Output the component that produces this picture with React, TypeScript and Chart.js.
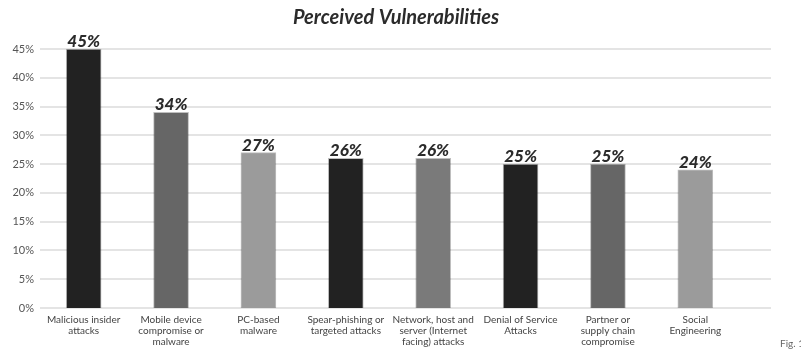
import React, { useEffect, useRef } from "react";
import { Chart, registerables } from "chart.js";

Chart.register(...registerables);

const categories: string[][] = [
  ["Malicious insider", "attacks"],
  ["Mobile device", "compromise or", "malware"],
  ["PC-based", "malware"],
  ["Spear-phishing or", "targeted attacks"],
  ["Network, host and", "server (Internet", "facing) attacks"],
  ["Denial of Service", "Attacks"],
  ["Partner or", "supply chain", "compromise"],
  ["Social", "Engineering"],
];
const values = [45, 34, 27, 26, 26, 25, 25, 24];
const barColors = ["#222222", "#666666", "#9b9b9b", "#222222", "#7a7a7a", "#222222", "#666666", "#9b9b9b"];
const yTicks = [0, 5, 10, 15, 20, 25, 30, 35, 40, 45];
const title = "Perceived Vulnerabilities";
const footnote = "Fig. 1";

const FONT = "Lato, 'Open Sans', sans-serif";

// Horizontal grid lines run a little past the last category, as in the printed figure.
const gridPlugin = {
  id: "extendedGrid",
  beforeDatasetsDraw(chart: any) {
    const { ctx, chartArea, scales } = chart;
    ctx.save();
    ctx.strokeStyle = "#e4e4e4";
    ctx.lineWidth = 2;
    for (const t of yTicks) {
      const y = Math.round(scales.y.getPixelForValue(t));
      ctx.beginPath();
      ctx.moveTo(chartArea.left, y);
      ctx.lineTo(chartArea.right + 32, y);
      ctx.stroke();
    }
    ctx.restore();
  },
};

// Title, bar value labels and the footnote.
const textPlugin = {
  id: "texts",
  afterDatasetsDraw(chart: any) {
    const { ctx } = chart;
    ctx.save();
    ctx.fillStyle = "#2b2b2b";
    ctx.textAlign = "center";
    ctx.textBaseline = "middle";
    ctx.font = `italic bold 20px ${FONT}`;
    ctx.fillText(title, 396, 18);

    const meta = chart.getDatasetMeta(0);
    ctx.font = `italic 900 17px ${FONT}`;
    ctx.textBaseline = "bottom";
    meta.data.forEach((bar: any, i: number) => {
      ctx.fillText(`${values[i]}%`, bar.x, bar.y + 1);
    });

    ctx.font = `10px ${FONT}`;
    ctx.fillStyle = "#666";
    ctx.textAlign = "left";
    ctx.textBaseline = "middle";
    ctx.fillText(footnote, 780, 344);
    ctx.restore();
  },
};

export default function App() {
  const ref = useRef<HTMLCanvasElement>(null);

  useEffect(() => {
    if (!ref.current) return;
    const chart = new Chart(ref.current, {
      type: "bar",
      data: {
        labels: categories,
        datasets: [
          {
            data: values,
            backgroundColor: barColors,
            borderColor: "rgba(0,0,0,0.25)",
            borderWidth: 1,
            barThickness: 35,
          },
        ],
      },
      options: {
        responsive: false,
        animation: false,
        layout: { padding: { top: 49, right: 62, left: 0, bottom: 0 } },
        plugins: {
          legend: { display: false },
          title: { display: false },
          tooltip: { enabled: false },
        },
        scales: {
          x: {
            offset: true,
            grid: { display: false, drawTicks: false },
            border: { display: false },
            ticks: {
              color: "#444",
              font: { family: FONT, size: 10, lineHeight: 1.1 },
              padding: 6,
              maxRotation: 0,
              autoSkip: false,
            },
            afterFit(scale: any) {
              scale.height = 43;
            },
          },
          y: {
            min: 0,
            max: 45,
            grid: { display: false, drawTicks: false },
            border: { display: false },
            afterBuildTicks(scale: any) {
              scale.ticks = yTicks.map((v) => ({ value: v }));
            },
            ticks: {
              color: "#555",
              font: { family: FONT, size: 11 },
              padding: 6,
              callback: (v: any) => `${v}%`,
            },
            afterFit(scale: any) {
              scale.width = 40;
            },
          },
        },
      },
      plugins: [gridPlugin, textPlugin],
    });
    return () => chart.destroy();
  }, []);

  return (
    <div style={{ position: "fixed", left: 0, top: 0, width: 801, height: 351, background: "#fff" }}>
      <canvas ref={ref} width={801} height={351} />
    </div>
  );
}
